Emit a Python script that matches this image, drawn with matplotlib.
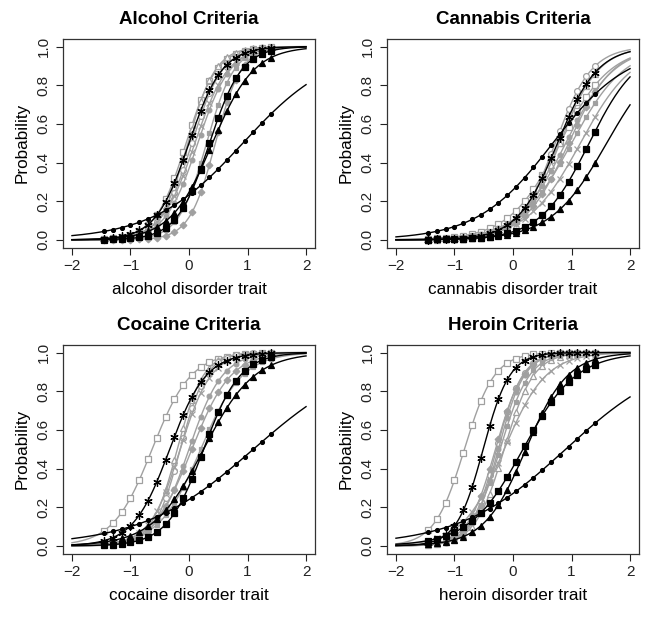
import numpy as np
import matplotlib
matplotlib.use("Agg")
import matplotlib.pyplot as plt

plt.rcParams['font.family'] = ['Liberation Sans', 'DejaVu Sans']

# item order: black dot, black asterisk, black square, black triangle,
# gray open square, gray open triangle, gray open circle, gray x,
# gray diamond, gray filled square, gray filled circle
panels = ["Alcohol", "Cannabis", "Cocaine", "Heroin"]

# location (trait value where P = 0.5)
alcohol_loc = [0.92, 0.0, 0.35, 0.40, -0.05, -0.02, 0.05, 0.10, 0.45, 0.30, 0.15]
cannabis_loc = [0.68, 0.76, 1.30, 1.60, 0.80, 0.80, 0.72, 1.15, 0.95, 1.00, 0.90]
cocaine_loc = [1.10, -0.33, 0.25, 0.25, -0.63, -0.20, -0.15, -0.15, 0.05, 0.20, 0.0]
heroin_loc = [0.90, -0.51, 0.17, 0.22, -0.83, -0.15, -0.28, -0.15, -0.30, -0.22, -0.25]

# slope (logit per trait unit)
alcohol_slope = [1.3, 3.5, 3.6, 2.8, 3.8, 4.2, 3.8, 3.5, 4.5, 4.2, 3.6]
cannabis_slope = [1.55, 2.9, 2.4, 2.1, 2.3, 3.0, 3.2, 2.2, 2.6, 2.2, 2.4]
cocaine_slope = [1.05, 3.2, 3.2, 2.3, 3.0, 4.5, 4.5, 3.8, 3.0, 2.8, 3.5]
heroin_slope = [1.1, 4.4, 2.2, 2.8, 3.9, 4.0, 4.5, 2.8, 4.2, 4.0, 4.5]

locs = [alcohol_loc, cannabis_loc, cocaine_loc, heroin_loc]
slopes = [alcohol_slope, cannabis_slope, cocaine_slope, heroin_slope]

gray = "#a0a0a0"
styles = [
    ("black", "o", True, 2.8),
    ("black", (6, 2, 0), False, 6),
    ("black", "s", True, 3.8),
    ("black", "^", True, 4.2),
    (gray, "s", False, 4.6),
    (gray, "^", False, 5),
    (gray, "o", False, 4.2),
    (gray, "x", False, 4.2),
    (gray, "D", True, 3.4),
    (gray, "s", True, 3.4),
    (gray, "o", True, 3.4),
]

W, H = 652, 617
fig = plt.figure(figsize=(W / 100, H / 100), dpi=100)
lefts = [62.6, 386.6]
tops = [38.8, 344.8]
aw, ah = 252.8, 208.8

theta = np.linspace(-2, 2, 300)
grid = np.arange(-1.45, 1.42, 0.15)

for k, name in enumerate(panels):
    r, c = divmod(k, 2)
    ax = fig.add_axes([lefts[c] / W, 1 - (tops[r] + ah) / H, aw / W, ah / H])
    # gray curves first so black ones sit on top
    order = list(range(4, 11)) + list(range(4))
    for i in order:
        col, mk, filled, ms = styles[i]
        b, a = locs[k][i], slopes[k][i]
        ax.plot(theta, 1 / (1 + np.exp(-a * (theta - b))), color=col, lw=1)
        ax.plot(grid, 1 / (1 + np.exp(-a * (grid - b))), ls="none",
                marker=mk, ms=ms, mec=col, mfc=col if filled else "white",
                mew=0.9)
    ax.set_xlim(-2.16, 2.16)
    ax.set_ylim(-0.04, 1.04)
    ax.set_xticks([-2, -1, 0, 1, 2])
    ax.set_yticks([0, 0.2, 0.4, 0.6, 0.8, 1.0])
    ax.set_yticklabels(["0.0", "0.2", "0.4", "0.6", "0.8", "1.0"],
                       rotation=90, va="center")
    ax.tick_params(labelsize=11, length=5, width=0.8, colors="#222222")
    for s in ax.spines.values():
        s.set_linewidth(0.9)
        s.set_color("#333333")
    ax.set_title(name + " Criteria", fontsize=13.5, fontweight="bold", pad=11)
    ax.set_xlabel(name.lower() + " disorder trait", fontsize=12.3, labelpad=6)
    ax.set_ylabel("Probability", fontsize=12.3, labelpad=5)

fig.savefig("out.png", dpi=100)
